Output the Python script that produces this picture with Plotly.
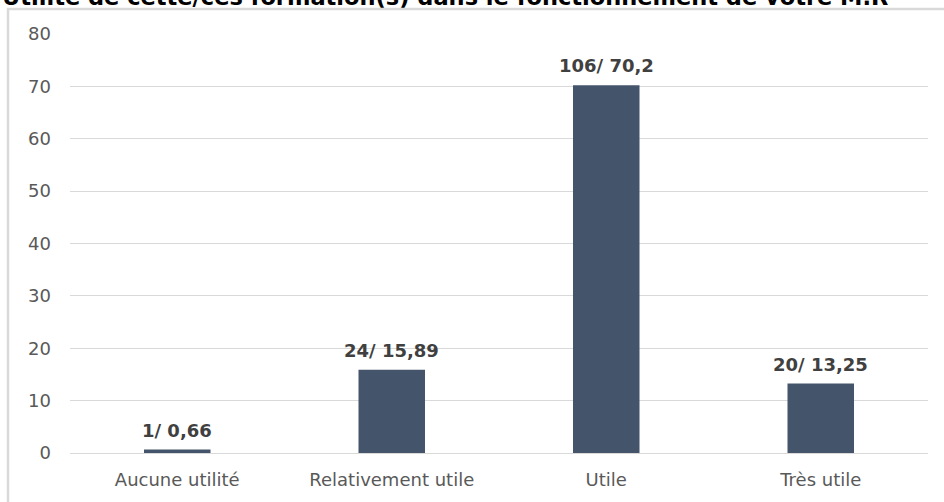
import plotly.graph_objects as go

# data
categories = ["Aucune utilité", "Relativement utile", "Utile", "Très utile"]
counts = [1, 24, 106, 20]
percents = [0.66, 15.89, 70.2, 13.25]
y_ticks = [0, 10, 20, 30, 40, 50, 60, 70, 80]

title = "Utilité de cette/ces formation(s) dans le fonctionnement de votre M.R"

W, H = 944, 502
m = dict(l=70, r=16, t=34, b=49)
pw = W - m["l"] - m["r"]
ph = H - m["t"] - m["b"]

fig = go.Figure()
fig.add_trace(go.Bar(
    x=categories, y=percents,
    marker_color="#44546A", marker_line_width=0,
    hoverinfo="skip",
))

# data labels "n/ pct"
for cat, n, p in zip(categories, counts, percents):
    fig.add_annotation(
        x=cat, y=p, xref="x", yref="y",
        text=f"<b>{n}/ {str(p).replace('.', ',')}</b>",
        showarrow=False, yanchor="bottom", yshift=7,
        font=dict(family="DejaVu Sans", size=18, color="#404040"),
    )

# light frame around the chart
fig.add_shape(
    type="rect", xref="paper", yref="paper",
    x0=(8 - m["l"]) / pw, x1=1.2,
    y0=-0.3, y1=1 + (m["t"] - 9) / ph,
    line=dict(color="#d9d9d9", width=2.5), layer="below",
)

# title, cut off at the top of the picture
fig.add_annotation(
    x=-m["l"] / pw, y=1 + (m["t"] - 12) / ph, xref="paper", yref="paper",
    text=f"<b>{title}</b>", showarrow=False,
    xanchor="left", yanchor="bottom",
    font=dict(family="DejaVu Sans", size=22.5, color="#000000"),
)

fig.update_layout(
    width=W, height=H, margin=m,
    plot_bgcolor="white", paper_bgcolor="white",
    bargap=0.69, showlegend=False,
    font=dict(family="DejaVu Sans", size=18, color="#595959"),
    xaxis=dict(showgrid=False, showline=False, ticks="", automargin=False,
               ticklabelstandoff=14, tickfont=dict(size=18)),
    yaxis=dict(
        range=[0, 80], tickvals=y_ticks, showgrid=True, gridcolor="#d9d9d9",
        gridwidth=1, zeroline=True, zerolinecolor="#d9d9d9", zerolinewidth=1,
        showline=False, ticks="", automargin=False, ticklabelstandoff=18,
        tickfont=dict(size=18),
    ),
)

# the page has a default 8px body margin; drop it so the figure sits at (0, 0)
fig.write_html("out.html", config={"displayModeBar": False},
               post_script="document.body.style.margin = '0';")
